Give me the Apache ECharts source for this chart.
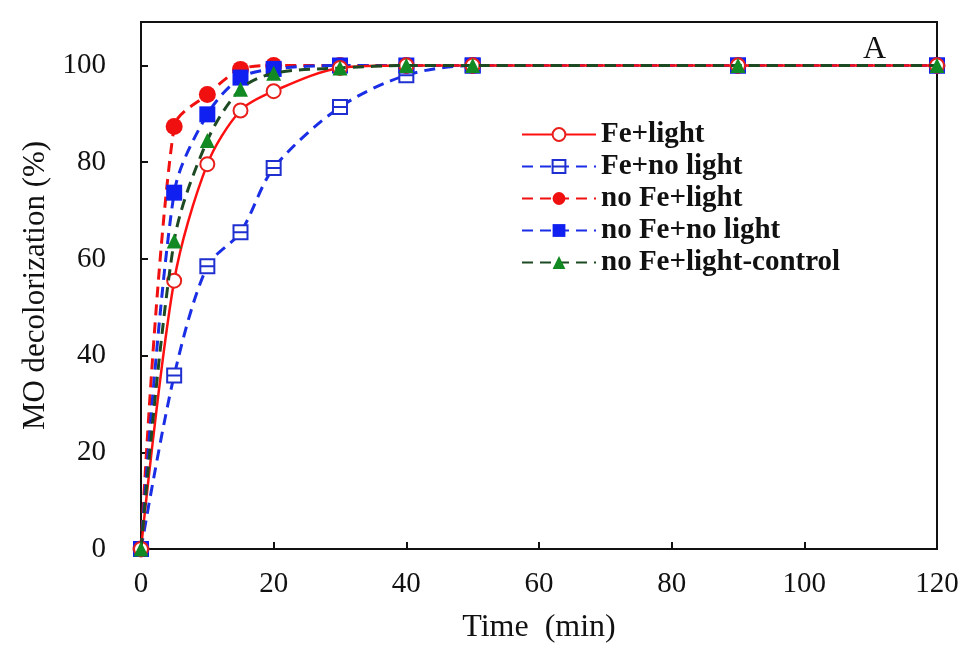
<!DOCTYPE html>
<html><head><meta charset="utf-8">
<script src="https://cdn.jsdelivr.net/npm/echarts@6/dist/echarts.min.js"></script>
<style>html,body{margin:0;padding:0;background:#fff}#c{width:963px;height:652px}</style>
</head><body><div id="c"></div>
<script>
const times = [0, 5, 10, 15, 20, 30, 40, 50, 90, 120];
const feLight = [0, 55.5, 79.6, 90.7, 94.7, 99.5, 100, 100, 100, 100];
const feNoLight = [0, 35.9, 58.5, 65.5, 78.8, 91.4, 98, 100, 100, 100];
const noFeLight = [0, 87.4, 94, 99.2, 100, 100, 100, 100, 100, 100];
const noFeNoLight = [0, 73.7, 89.9, 97.5, 99.3, 100, 100, 100, 100, 100];
const noFeLightControl = [0, 63.7, 84.5, 95.1, 98.4, 99.5, 100, 100, 100, 100];
const seriesNames = ['Fe+light', 'Fe+no light', 'no Fe+light', 'no Fe+no light', 'no Fe+light-control'];
const xTicks = [0, 20, 40, 60, 80, 100, 120];
const yTicks = [0, 20, 40, 60, 80, 100];

const pair = arr => times.map((t, i) => [t, arr[i]]);
const font = 'Liberation Serif';
const dash = [11, 7];
const squareLine = 'path://M0,0L10,0L10,10L0,10Z M0,5L10,5';

const chart = echarts.init(document.getElementById('c'));
chart.setOption({
  animation: false,
  backgroundColor: '#fff',
  grid: { left: 141, right: 26, top: 22, bottom: 103, show: true, borderColor: '#111', borderWidth: 2 },
  title: { text: 'A', left: 858, top: 29, textStyle: { fontFamily: font, fontSize: 32, fontWeight: 'normal', color: '#111' } },
  legend: {
    data: seriesNames, orient: 'vertical', left: 516, top: 115,
    itemWidth: 74, itemHeight: 16, itemGap: 3,
    textStyle: { fontFamily: font, fontSize: 29, fontWeight: 'bold', lineHeight: 28.5, color: '#111' }
  },
  xAxis: {
    type: 'value', min: 0, max: 120, interval: 20,
    name: 'Time  (min)', nameLocation: 'middle', nameGap: 63,
    nameTextStyle: { fontFamily: font, fontSize: 32, color: '#111' },
    axisLine: { lineStyle: { color: '#111', width: 2 } },
    axisTick: { inside: true, length: 7, lineStyle: { color: '#111', width: 2 } },
    axisLabel: { margin: 21, fontFamily: font, fontSize: 29, color: '#111',
      formatter: v => xTicks.includes(v) ? String(v) : '' },
    splitLine: { show: false }
  },
  yAxis: {
    type: 'value', min: 0, max: 109, interval: 20,
    name: 'MO decolorization (%)', nameLocation: 'middle', nameGap: 88,
    nameTextStyle: { fontFamily: font, fontSize: 31, color: '#111' },
    axisLine: { lineStyle: { color: '#111', width: 2 } },
    axisTick: { inside: true, length: 7, lineStyle: { color: '#111', width: 2 } },
    axisLabel: { margin: 35, fontFamily: font, fontSize: 29, color: '#111',
      formatter: v => yTicks.includes(v) ? String(v) : '' },
    splitLine: { show: false }
  },
  series: [
    { name: seriesNames[0], type: 'line', data: pair(feLight), smooth: 0.3, z: 5,
      symbol: 'emptyCircle', symbolSize: 14,
      itemStyle: { color: '#e8201c', borderColor: '#e8201c', borderWidth: 2 },
      lineStyle: { color: '#ff1010', width: 2.5, type: 'solid' } },
    { name: seriesNames[1], type: 'line', data: pair(feNoLight), smooth: 0.3, z: 2,
      symbol: squareLine, symbolSize: 14,
      itemStyle: { color: '#fff', borderColor: '#2030d0', borderWidth: 2 },
      lineStyle: { color: '#1a2ee6', width: 3, type: dash } },
    { name: seriesNames[2], type: 'line', data: pair(noFeLight), smooth: 0.3, z: 3,
      symbol: 'circle', symbolSize: 17,
      itemStyle: { color: '#f01010' },
      lineStyle: { color: '#f01010', width: 3, type: dash } },
    { name: seriesNames[3], type: 'line', data: pair(noFeNoLight), smooth: 0.3, z: 4,
      symbol: 'rect', symbolSize: 16,
      itemStyle: { color: '#1020f0' },
      lineStyle: { color: '#1a2ee6', width: 3, type: dash } },
    { name: seriesNames[4], type: 'line', data: pair(noFeLightControl), smooth: 0.3, z: 6,
      symbol: 'triangle', symbolSize: 15,
      itemStyle: { color: '#128a24' },
      lineStyle: { color: '#1d4a22', width: 3, type: dash } }
  ]
});
</script></body></html>
